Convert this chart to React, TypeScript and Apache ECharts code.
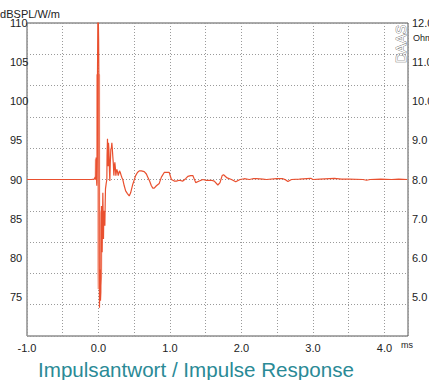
import React, { useEffect, useRef } from "react";
import * as echarts from "echarts";

// Impulse response trace (time in ms, level in dB SPL/W/m)
const timeMs = [
  -1.0, -0.5, -0.1, -0.06, -0.045, -0.038, -0.033, -0.028, -0.023, -0.016, -0.014, -0.008, -0.003,
  0.002, 0.005, 0.01, 0.014, 0.018, 0.023, 0.028, 0.033, 0.038, 0.042, 0.047, 0.051, 0.056, 0.061,
  0.066, 0.07, 0.075, 0.079, 0.084, 0.089, 0.094, 0.098, 0.108, 0.117, 0.12, 0.126, 0.13, 0.135,
  0.14, 0.145, 0.149, 0.154, 0.159, 0.165, 0.173, 0.18, 0.187, 0.193, 0.2, 0.208, 0.215, 0.222,
  0.229, 0.236, 0.243, 0.25, 0.257, 0.266, 0.276, 0.285, 0.294, 0.305, 0.318, 0.33, 0.34, 0.36,
  0.38, 0.405, 0.43, 0.45, 0.48, 0.52, 0.545, 0.57, 0.6, 0.64, 0.67, 0.69, 0.715, 0.74, 0.76, 0.78,
  0.81, 0.85, 0.88, 0.92, 0.95, 0.99, 1.02, 1.06, 1.09, 1.13, 1.18, 1.22, 1.25, 1.29, 1.32, 1.36,
  1.41, 1.46, 1.5, 1.53, 1.58, 1.62, 1.67, 1.7, 1.73, 1.75, 1.8, 1.86, 1.92, 1.98, 2.04, 2.11,
  2.16, 2.21, 2.3, 2.35, 2.49, 2.58, 2.62, 2.65, 2.7, 2.81, 2.97, 3.0, 3.1, 3.3, 3.4, 3.5, 3.7,
  3.75, 3.8, 3.95, 4.1, 4.2, 4.32,
];
const levelDb = [
  90.0, 90.0, 90.0, 90.05, 90.3, 90.0, 92.8, 92.8, 89.2, 93.0, 103.2, 112, 111,
  107.9, 104, 80, 73.6, 76, 78.5, 74.5, 75.6, 84, 86.6, 83, 80.7, 85, 88.3,
  85, 82.4, 86, 85.8, 85, 84.1, 87, 88.8, 89.5, 90.0, 93, 95.2, 93, 91.7,
  94.7, 94, 93.0, 91, 89.8, 92, 93.9, 94, 94.7, 94, 93.0, 92, 90.5, 91.5,
  92.2, 91.5, 90.5, 91, 91.3, 91, 90.5, 90.8, 91.1, 90.9, 90.5, 90.2, 90.0, 89.2,
  88.55, 88.2, 87.9, 88.3, 89.4, 90.5, 90.9, 91.1, 91.1, 91.0, 90.7, 90.3, 89.8, 89.2, 88.9, 88.9,
  89.2, 89.5, 90.3, 90.9, 90.9, 90.9, 90.0, 89.8, 89.8, 89.9, 89.8, 90.1, 90.4, 90.5, 90.5, 89.6,
  89.8, 90.0, 89.9, 89.9, 89.9, 89.8, 89.3, 89.6, 90.5, 90.6, 90.2, 90.0, 89.7, 90.0, 90.1, 90.0,
  90.1, 90.1, 90.05, 90.0, 90.1, 90.1, 89.95, 89.75, 90.0, 90.05, 90.15, 90.0, 90.05, 90.15, 90.05, 90.05, 90.0,
  89.9, 90.0, 90.05, 90.0, 90.05, 90.0,
];
// Light (anti-aliased) overdraw of the main spike
const spikeTimeMs = [-0.033, -0.03, -0.012, -0.012, 0.002, 0.004, 0.008, 0.03, 0.036, 0.05];
const spikeDb = [90.0, 92.6, 89.5, 103.4, 103.4, 78.4, 76.0, 77.5, 85.0, 86.0];

const xLabelValues = [-1, 0, 1, 2, 3, 4];
const leftTicks = { min: 70, max: 110, step: 5 };
const rightTicks = { min: 4, max: 12, step: 1 };
const xRange = { min: -1, max: 4.33, step: 0.5 };

const FONT = "Liberation Sans, Arial, sans-serif";

export default function App() {
  const ref = useRef<HTMLDivElement>(null);
  useEffect(() => {
    document.body.style.margin = "0";
    const chart = echarts.init(ref.current!, null, { renderer: "svg" });
    const mainData = timeMs.map((t, i) => [t, levelDb[i]]);
    const spikeData = spikeTimeMs.map((t, i) => [t, spikeDb[i]]);
    const gridLine = { show: true, lineStyle: { color: "#9a9a9a", type: [1, 2] as any, width: 1 } };
    chart.setOption({
      animation: false,
      backgroundColor: "#ffffff",
      grid: {
        left: 27,
        top: 23,
        width: 381,
        height: 313,
        show: true,
        borderColor: "#555555",
        borderWidth: 1,
        backgroundColor: "transparent",
        outerBoundsMode: "none",
        containLabel: false,
      },
      xAxis: [
        {
          type: "value",
          min: xRange.min,
          max: xRange.max,
          interval: xRange.step,
          axisLine: { show: false },
          axisTick: { show: false },
          splitLine: gridLine,
          axisLabel: { show: false },
        },
        {
          type: "value",
          position: "bottom",
          min: xRange.min,
          max: xRange.max,
          axisLine: { show: false },
          axisTick: { show: false },
          splitLine: { show: false },
          axisLabel: {
            customValues: xLabelValues,
            hideOverlap: false,
            margin: 6,
            color: "#222",
            fontFamily: FONT,
            fontSize: 11,
            formatter: (v: number) => v.toFixed(1),
          },
        },
      ],
      yAxis: [
        {
          type: "value",
          min: leftTicks.min,
          max: leftTicks.max,
          interval: leftTicks.step,
          position: "left",
          axisLine: { show: false },
          axisTick: { show: false },
          splitLine: { show: false },
          axisLabel: {
            showMinLabel: false,
            align: "left",
            margin: 17,
            padding: [6, 0, 0, 0],
            color: "#222",
            fontFamily: FONT,
            fontSize: 11,
          },
        },
        {
          type: "value",
          min: rightTicks.min,
          max: rightTicks.max,
          interval: rightTicks.step,
          position: "right",
          axisLine: { show: false },
          axisTick: { show: false },
          splitLine: { show: false },
          axisLabel: {
            showMinLabel: false,
            margin: 4,
            padding: [5, 0, 0, 0],
            color: "#222",
            fontFamily: FONT,
            fontSize: 11,
            formatter: (v: number) => v.toFixed(1),
          },
        },
        {
          type: "value",
          min: 0,
          max: 10,
          interval: 1,
          position: "left",
          axisLine: { show: false },
          axisTick: { show: false },
          axisLabel: { show: false },
          splitLine: gridLine,
        },
      ],
      series: [
        {
          type: "line",
          xAxisIndex: 0,
          yAxisIndex: 0,
          data: spikeData,
          symbol: "none",
          lineStyle: { color: "#f6a896", width: 3 },
          z: 2,
        },
        {
          type: "line",
          xAxisIndex: 0,
          yAxisIndex: 0,
          data: mainData,
          symbol: "none",
          lineStyle: { color: "#e9502f", width: 1.2 },
          z: 3,
        },
      ],
      graphic: [
        {
          type: "text",
          x: 60,
          y: 14,
          style: {
            text: "dBSPL/W/m",
            align: "right",
            verticalAlign: "middle",
            fontFamily: FONT,
            fontSize: 11,
            fill: "#222",
          },
        },
        {
          type: "text",
          x: 413,
          y: 38,
          style: {
            text: "Ohm",
            align: "left",
            verticalAlign: "middle",
            fontFamily: FONT,
            fontSize: 9,
            fill: "#222",
          },
        },
        {
          type: "text",
          x: 408,
          y: 44,
          rotation: Math.PI / 2,
          style: {
            text: "DAAS",
            align: "center",
            verticalAlign: "bottom",
            fontFamily: FONT,
            fontSize: 14,
            fill: "#ffffff",
            stroke: "#6e6e6e",
            lineWidth: 0.8,
          },
        },
        {
          type: "text",
          x: 401,
          y: 345,
          style: {
            text: "ms",
            align: "left",
            verticalAlign: "middle",
            fontFamily: FONT,
            fontSize: 9,
            fill: "#222",
          },
        },
        {
          type: "text",
          x: 38,
          y: 369,
          style: {
            text: "Impulsantwort / Impulse Response",
            align: "left",
            verticalAlign: "middle",
            fontFamily: FONT,
            fontSize: 20.6,
            fill: "#2a8a96",
          },
        },
      ],
    });
    return () => chart.dispose();
  }, []);
  return <div ref={ref} style={{ width: 429, height: 380 }} />;
}
